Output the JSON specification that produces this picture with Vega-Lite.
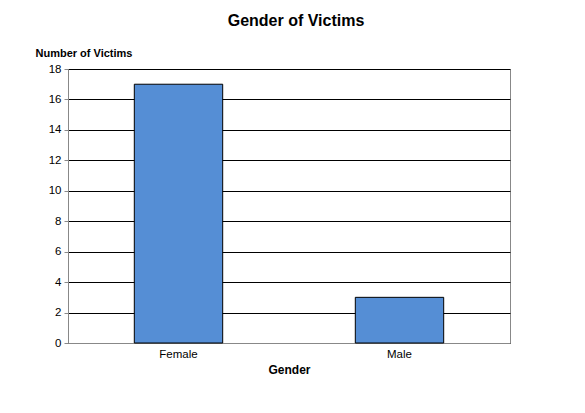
{
  "$schema": "https://vega.github.io/schema/vega-lite/v6.json",
  "autosize": "none",
  "padding": {"left": 68, "top": 69, "right": 75, "bottom": 70},
  "width": 442,
  "height": 274,
  "title": {
    "text": "Gender of Victims",
    "font": "Liberation Sans",
    "fontSize": 16,
    "fontWeight": "bold",
    "color": "black",
    "anchor": "middle",
    "dx": 7,
    "offset": 18
  },
  "config": {
    "background": "white",
    "view": {"stroke": "#888888", "strokeWidth": 1},
    "axis": {
      "labelFont": "Liberation Sans",
      "titleFont": "Liberation Sans",
      "labelColor": "black",
      "titleColor": "black",
      "domainColor": "#888888",
      "tickColor": "#888888"
    }
  },
  "data": {
    "values": [
      {"gender": "Female", "victims": 17},
      {"gender": "Male", "victims": 3}
    ]
  },
  "mark": {"type": "bar", "color": "#558ed5", "stroke": "black", "strokeWidth": 1},
  "encoding": {
    "x": {
      "field": "gender",
      "type": "nominal",
      "sort": null,
      "scale": {"paddingInner": 0.6, "paddingOuter": 0.3},
      "axis": {
        "title": "Gender",
        "titleFontSize": 12,
        "titleFontWeight": "bold",
        "titlePadding": 5,
        "labelAngle": 0,
        "labelFontSize": 11.5,
        "labelPadding": 5,
        "ticks": false,
        "grid": false
      }
    },
    "y": {
      "field": "victims",
      "type": "quantitative",
      "scale": {"domain": [0, 18]},
      "axis": {
        "values": [0, 2, 4, 6, 8, 10, 12, 14, 16, 18],
        "title": "Number of Victims",
        "titleFontSize": 11,
        "titleFontWeight": "bold",
        "titleAngle": 0,
        "titleAlign": "left",
        "titleBaseline": "alphabetic",
        "titleX": -33,
        "titleY": -13,
        "labelFontSize": 11.5,
        "labelPadding": 3,
        "tickSize": 4,
        "grid": true,
        "gridColor": "black",
        "gridOpacity": 1
      }
    }
  }
}
